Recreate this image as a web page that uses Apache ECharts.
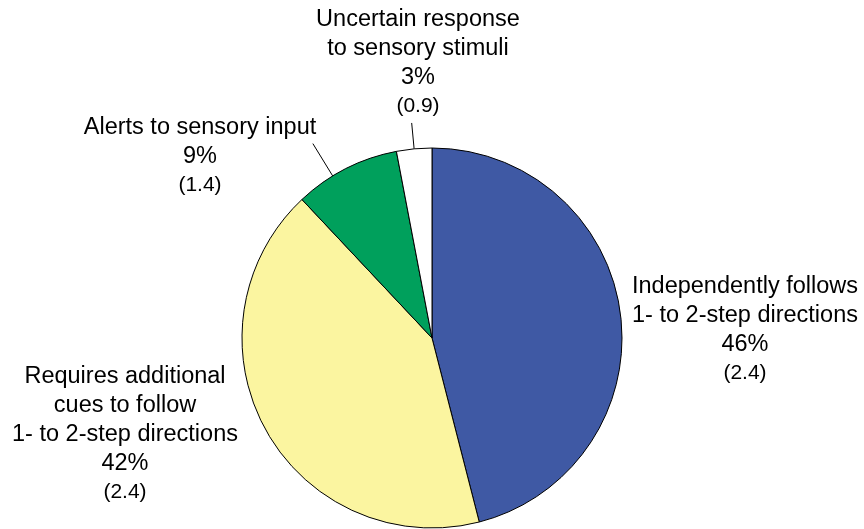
<!DOCTYPE html>
<html>
<head>
<meta charset="utf-8">
<script src="https://cdn.jsdelivr.net/npm/echarts@6/dist/echarts.min.js"></script>
<style>
  html, body { margin: 0; padding: 0; background: #fff; }
  #chart { width: 864px; height: 529px; }
</style>
</head>
<body>
<div id="chart"></div>
<script>
// data
const categories = [
  'Independently follows\n1- to 2-step directions',
  'Requires additional\ncues to follow\n1- to 2-step directions',
  'Alerts to sensory input',
  'Uncertain response\nto sensory stimuli'
]
const percents = [46, 42, 9, 3]
const errors = ['2.4', '2.4', '1.4', '0.9']

// styles
const sliceColors = ['#3F59A4', '#FBF5A0', '#00A05C', '#FFFFFF']
const showLine = [false, false, true, true]
const lineLength = [10, 10, 38, 26]
// rotate leader line round the centre (degrees, + = anticlockwise)
const lineShift = [0, 0, 4.5, 0]
// label block centres, px
const labelPos = [[745, 330], [125, 434], [200, 156], [418, 63]]
const pieCenter = [432, 338]

const chart = echarts.init(document.getElementById('chart'))

function rotatePt(pt, deg) {
  const a = -deg * Math.PI / 180
  const dx = pt[0] - pieCenter[0]
  const dy = pt[1] - pieCenter[1]
  return [
    pieCenter[0] + dx * Math.cos(a) - dy * Math.sin(a),
    pieCenter[1] + dx * Math.sin(a) + dy * Math.cos(a)
  ]
}

const option = {
  animation: false,
  textStyle: {fontFamily: 'Liberation Sans, Arial, sans-serif'},
  series: [{
    type: 'pie',
    center: pieCenter,
    radius: 190,
    startAngle: 90,
    clockwise: true,
    avoidLabelOverlap: false,
    itemStyle: {borderColor: '#000', borderWidth: 1},
    label: {
      show: true,
      position: 'outside',
      color: '#000',
      fontSize: 23.5,
      lineHeight: 29,
      align: 'center',
      formatter: p => p.name + '\n' + p.value + '%\n{s|(' + errors[p.dataIndex] + ')}',
      rich: {
        s: {fontSize: 21, lineHeight: 28, color: '#000'}
      }
    },
    labelLine: {
      lineStyle: {color: '#000', width: 1}
    },
    labelLayout: function (params) {
      const i = params.dataIndex
      const pts = params.labelLinePoints
        ? params.labelLinePoints.slice(0, 2).map(p => rotatePt(p, lineShift[i]))
        : undefined
      return {
        x: labelPos[i][0],
        y: labelPos[i][1],
        align: 'center',
        verticalAlign: 'middle',
        labelLinePoints: pts
      }
    },
    data: categories.map((c, i) => ({
      name: c,
      value: percents[i],
      itemStyle: {color: sliceColors[i]},
      labelLine: {show: showLine[i], length: lineLength[i], length2: 0}
    }))
  }]
}

chart.setOption(option)
</script>
</body>
</html>
